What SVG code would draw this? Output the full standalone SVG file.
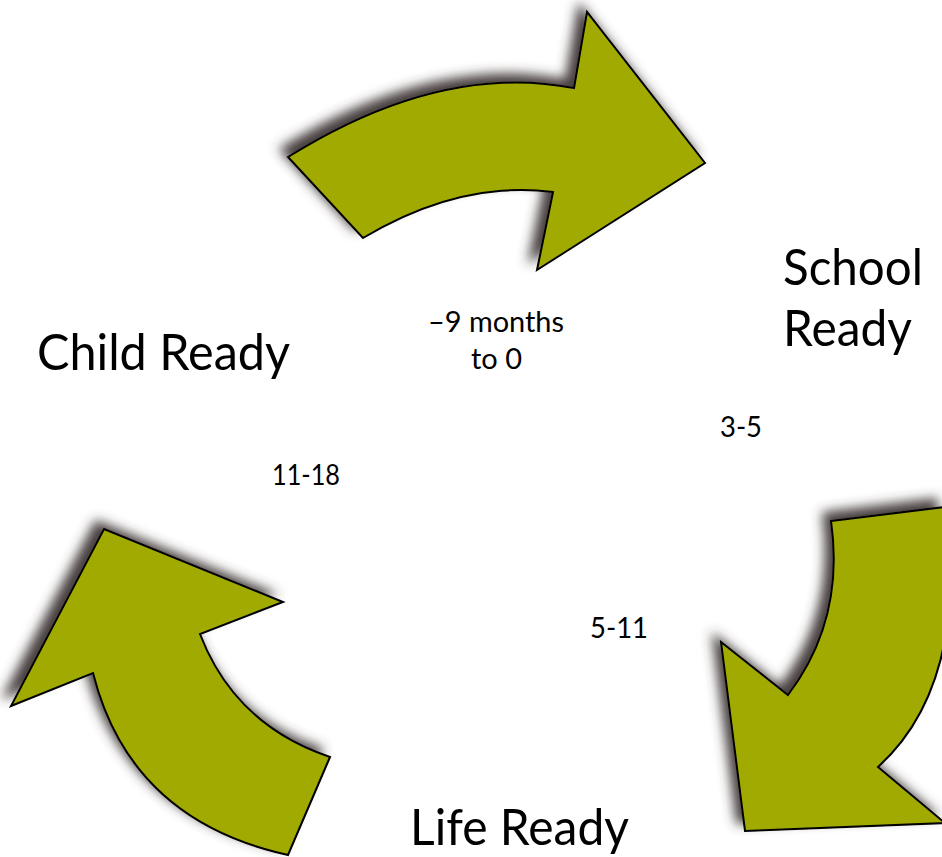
<svg xmlns="http://www.w3.org/2000/svg" width="942" height="857" viewBox="0 0 942 857">
<defs>
<filter id="sh" x="-20%" y="-20%" width="140%" height="140%">
<feDropShadow dx="-8" dy="-8" stdDeviation="6" flood-color="#3e3232" flood-opacity="0.95"/>
</filter>
<style>
.arrow{fill:#a0aa00;stroke:#000;stroke-width:2;stroke-linejoin:miter;filter:url(#sh)}
.big{font-family:"Lato","Liberation Sans",sans-serif;font-size:50px;font-weight:400;fill:#000}
.small{font-family:"Lato","Liberation Sans",sans-serif;font-size:28px;font-weight:400;fill:#000}
</style>
</defs>
<rect width="942" height="857" fill="#fff"/>
<g id="connectors">
<g id="arrow-top">
<path class="arrow" d="M288,157 L363,238 Q460,180 553,192 L537,270 L705,163 L587,12 L574,88 Q440,62 288,157 Z"/>
</g>
<g id="arrow-right">
<path class="arrow" d="M831,521 L945,507 L945,640 Q930,720 878,767 L945,823 L745,831 L721,642 L788,695 Q845,620 831,521 Z"/>
</g>
<g id="arrow-left">
<path class="arrow" d="M104,529 L283,602 L200,634 Q235,725 330,757 L288,855 Q130,820 93,673 L11,706 Z"/>
</g>
</g>
<g id="node-child">
<text class="big" x="37" y="370" textLength="253" lengthAdjust="spacingAndGlyphs">Child Ready</text>
</g>
<g id="node-school">
<text class="big" x="783" y="285" textLength="140" lengthAdjust="spacingAndGlyphs">School</text>
<text class="big" x="783" y="346" textLength="129" lengthAdjust="spacingAndGlyphs">Ready</text>
</g>
<g id="node-life">
<text class="big" x="410" y="845" textLength="219" lengthAdjust="spacingAndGlyphs">Life Ready</text>
</g>
<g id="labels">
<text class="small" x="428" y="332" textLength="136" lengthAdjust="spacingAndGlyphs">–9 months</text>
<text class="small" x="471" y="369" textLength="51" lengthAdjust="spacingAndGlyphs">to 0</text>
<text class="small" x="720" y="437" textLength="42" lengthAdjust="spacingAndGlyphs">3-5</text>
<text class="small" x="272" y="485" textLength="68" lengthAdjust="spacingAndGlyphs">11-18</text>
<text class="small" x="590" y="638" textLength="58" lengthAdjust="spacingAndGlyphs">5-11</text>
</g>
</svg>
